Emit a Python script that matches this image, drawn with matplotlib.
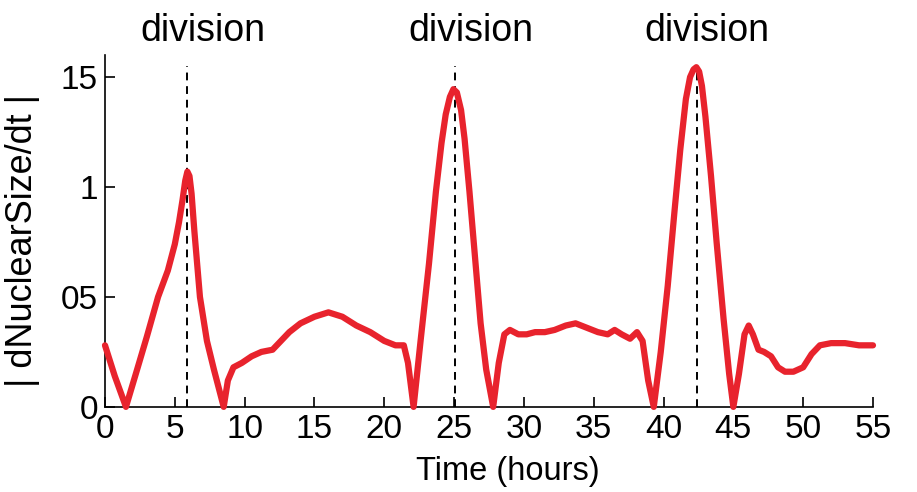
import matplotlib
matplotlib.use("Agg")
import matplotlib.pyplot as plt

plt.rcParams['font.family'] = ['Liberation Sans', 'DejaVu Sans']

# Datos
tiempo = [0, 0.7, 1.5, 2.3, 3.0, 3.8, 4.5, 5.0, 5.3, 5.55, 5.75, 5.9, 6.05,
          6.2, 6.4, 6.8, 7.3, 7.8, 8.5, 8.8, 9.2, 9.8, 10.5, 11.2, 12, 12.6,
          13.2, 14, 15, 16, 17, 18, 19, 20, 20.8, 21.4, 21.7, 22.1,
          22.6, 23.2, 23.7, 24.1, 24.4, 24.7, 24.95, 25.2, 25.5, 25.75,
          26.1, 26.5, 26.9, 27.3, 27.8, 28.2, 28.6, 29, 29.6, 30.2, 30.8,
          31.5, 32.2, 33, 33.7, 34.5, 35.3, 36, 36.5, 37, 37.6, 38.1, 38.5,
          38.9, 39.3,
          39.8, 40.3, 40.8, 41.2, 41.6, 41.9, 42.15, 42.35, 42.55, 42.75,
          43.0, 43.4, 43.8, 44.3, 44.7, 45.0, 45.4, 45.8, 46.1, 46.4, 46.8,
          47.2, 47.7, 48.2, 48.7, 49.3, 50, 50.6, 51.2, 52, 53, 54, 55]
tasa = [0.28, 0.14, 0.0, 0.17, 0.32, 0.5, 0.62, 0.74, 0.84, 0.94, 1.03,
        1.07, 1.05, 0.97, 0.8, 0.5, 0.3, 0.17, 0.0, 0.12, 0.18, 0.2, 0.23,
        0.25, 0.26, 0.3, 0.34, 0.38, 0.41, 0.43, 0.41, 0.37, 0.34, 0.3,
        0.28, 0.28, 0.2, 0.0,
        0.3, 0.65, 0.98, 1.2, 1.33, 1.41, 1.445, 1.43, 1.35, 1.22,
        0.98, 0.68, 0.38, 0.17, 0.0, 0.2, 0.33, 0.35, 0.33, 0.33, 0.34,
        0.34, 0.35, 0.37, 0.38, 0.36, 0.34, 0.33, 0.35, 0.33, 0.31, 0.34,
        0.3, 0.12, 0.0,
        0.25, 0.55, 0.9, 1.17, 1.4, 1.5, 1.535, 1.545, 1.525, 1.46,
        1.32, 1.05, 0.75, 0.4, 0.15, 0.0, 0.15, 0.33, 0.37, 0.33, 0.26,
        0.25, 0.23, 0.18, 0.16, 0.16, 0.18, 0.24, 0.28, 0.29, 0.29, 0.28,
        0.28]

divisiones = [5.9, 25.05, 42.4]
texto_x = [7.0, 26.2, 43.1]
xticks = [0, 5, 10, 15, 20, 25, 30, 35, 40, 45, 50, 55]
yticks = [0, 0.5, 1, 1.5]
ytick_labels = ['0', '05', '1', '15']

fig = plt.figure(figsize=(9.17, 4.92), dpi=100)
ax = fig.add_axes([0.1145, 0.173, 0.8375, 0.715])

for d in divisiones:
    ax.vlines(d, 0, 1.55, colors='black', linestyles=(0, (4, 3)), linewidth=1.4)
for tx in texto_x:
    ax.text(tx, 1.71, 'division', ha='center', va='center', fontsize=27)

ax.plot(tiempo, tasa, color='#e8232d', linewidth=4.5, solid_capstyle='round',
        solid_joinstyle='round', clip_on=False, zorder=3)

ax.set_xlim(0, 55)
ax.set_ylim(0, 1.6)
ax.set_xticks(xticks)
ax.set_yticks(yticks)
ax.set_yticklabels(ytick_labels)
ax.tick_params(direction='in', length=7, width=1.2, labelsize=24, pad=5)
ax.spines['top'].set_visible(False)
ax.spines['right'].set_visible(False)
ax.spines['left'].set_linewidth(1.2)
ax.spines['bottom'].set_linewidth(1.2)
ax.set_xlabel('Time (hours)', fontsize=23.5)
ax.xaxis.set_label_coords(0.525, -0.185)
ax.xaxis.label.set_va('center')
ax.set_ylabel('| dNuclearSize/dt |', fontsize=26)
ax.yaxis.set_label_coords(-0.108, 0.474)
ax.yaxis.label.set_va('center')

fig.savefig('out.png', dpi=100)
